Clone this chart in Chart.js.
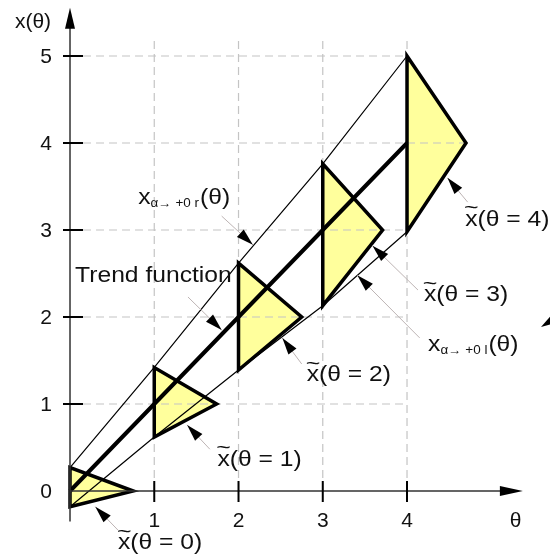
<!DOCTYPE html>
<html>
<head>
<meta charset="utf-8">
<title>Fuzzy trend</title>
<script src="https://cdn.jsdelivr.net/npm/chart.js@4"></script>
<style>
  html, body { margin: 0; padding: 0; background: #fff; }
  #wrap { width: 550px; height: 558px; }
</style>
</head>
<body>
<div id="wrap"><canvas id="trendChart" width="550" height="558"></canvas></div>
<script>
// fuzzy observations: one triangle per theta
const thetaPoints = [0, 1, 2, 3, 4];
const upperBound = [0.27, 1.42, 2.62, 3.76, 5.0];
const lowerBound = [-0.18, 0.62, 1.39, 2.13, 2.98];
const peakTheta = [0.75, 1.74, 2.75, 3.71, 4.7];
const trendValue = [0, 1, 2, 3, 4];

const xTicks = [1, 2, 3, 4];
const yTicks = [0, 1, 2, 3, 4, 5];

// callouts: label text, label anchor, arrow tip and leader end (data units)
const callouts = [
    { text: '(\u03b8 = 0)', tilde: true, at: [1.07, -0.60], tip: [0.30, -0.18], tail: [0.57, -0.45] },
    { text: '(\u03b8 = 1)', tilde: true, at: [2.25, 0.36], tip: [1.39, 0.76], tail: [1.66, 0.48] },
    { text: '(\u03b8 = 2)', tilde: true, at: [3.31, 1.33], tip: [2.52, 1.76], tail: [2.75, 1.46] },
    { text: '(\u03b8 = 3)', tilde: true, at: [4.70, 2.25], tip: [3.59, 2.82], tail: [4.13, 2.31] },
    { text: '(\u03b8 = 4)', tilde: true, at: [5.19, 3.12], tip: [4.48, 3.60], tail: [4.72, 3.32] },
    { text: 'Trend function', tilde: false, at: [0.99, 2.47], tip: [1.80, 1.85], tail: [1.40, 2.23] }
];
const boundCallouts = [
    { sub: '\u03b1\u2192 +0 r', at: [0.81, 3.37], tip: [2.17, 2.83], tail: [1.80, 3.16] },
    { sub: '\u03b1\u2192 +0 l', at: [4.25, 1.68], tip: [3.41, 2.48], tail: [4.15, 1.76] }
];

const FONT = '"Liberation Sans", Arial, sans-serif';
const STRETCH = 1.12;

function triangle(i) {
    const t = thetaPoints[i];
    return [
        { x: t, y: lowerBound[i] },
        { x: t, y: upperBound[i] },
        { x: peakTheta[i], y: trendValue[i] },
        { x: t, y: lowerBound[i] },
        { x: t, y: upperBound[i] }
    ];
}

const datasets = [];
thetaPoints.forEach((t, i) => {
    datasets.push({
        data: triangle(i),
        borderColor: '#000',
        borderWidth: 3.5,
        backgroundColor: '#ffff9c',
        fill: 'shape',
        borderJoinStyle: 'miter',
        pointRadius: 0,
        order: 1
    });
});
datasets.push({
    data: thetaPoints.map((t, i) => ({ x: t, y: trendValue[i] })),
    borderColor: '#000',
    borderWidth: 4,
    fill: false,
    pointRadius: 0,
    order: 1
});
datasets.push({
    data: thetaPoints.map((t, i) => ({ x: t, y: upperBound[i] })),
    borderColor: '#000',
    borderWidth: 1.2,
    fill: false,
    pointRadius: 0,
    order: 2
});
datasets.push({
    data: thetaPoints.map((t, i) => ({ x: t, y: lowerBound[i] })),
    borderColor: '#000',
    borderWidth: 1.2,
    fill: false,
    pointRadius: 0,
    order: 2
});

function arrowHead(ctx, tx, ty, fx, fy, len, half) {
    const a = Math.atan2(ty - fy, tx - fx);
    ctx.beginPath();
    ctx.moveTo(tx, ty);
    ctx.lineTo(tx - len * Math.cos(a) + half * Math.sin(a), ty - len * Math.sin(a) - half * Math.cos(a));
    ctx.lineTo(tx - len * Math.cos(a) - half * Math.sin(a), ty - len * Math.sin(a) + half * Math.cos(a));
    ctx.closePath();
    ctx.fill();
}

// slightly widened text, left aligned at x, vertically centred on y
function wideText(ctx, text, x, y, size) {
    ctx.save();
    ctx.font = size + 'px ' + FONT;
    ctx.textAlign = 'left';
    ctx.textBaseline = 'middle';
    ctx.translate(x, y);
    ctx.scale(STRETCH, 1);
    ctx.fillText(text, 0, 0);
    const w = ctx.measureText(text).width * STRETCH;
    ctx.restore();
    return w;
}

function wideWidth(ctx, text, size) {
    ctx.save();
    ctx.font = size + 'px ' + FONT;
    const w = ctx.measureText(text).width * STRETCH;
    ctx.restore();
    return w;
}

// x with a tilde over it, then the rest of the label
function tildeLabel(ctx, text, cx, cy) {
    const total = wideWidth(ctx, 'x' + text, 22);
    let x = cx - total / 2;
    const xw = wideText(ctx, 'x', x, cy, 22);
    ctx.save();
    ctx.font = '20px ' + FONT;
    ctx.textAlign = 'center';
    ctx.textBaseline = 'middle';
    ctx.translate(x + xw / 2, cy - 11);
    ctx.scale(1.25, 1);
    ctx.fillText('~', 0, 0);
    ctx.restore();
    wideText(ctx, text, x + xw, cy, 22);
}

const axesPlugin = {
    id: 'axesPlugin',
    beforeDatasetsDraw(chart) {
        const ctx = chart.ctx;
        const xs = chart.scales.x, ys = chart.scales.y;
        ctx.save();
        ctx.strokeStyle = '#c4c4c4';
        ctx.lineWidth = 1.2;
        ctx.setLineDash([8, 5]);
        yTicks.slice(1).forEach(v => {
            ctx.beginPath();
            ctx.moveTo(xs.getPixelForValue(0), ys.getPixelForValue(v));
            ctx.lineTo(xs.getPixelForValue(4), ys.getPixelForValue(v));
            ctx.stroke();
        });
        xTicks.forEach(v => {
            ctx.beginPath();
            ctx.moveTo(xs.getPixelForValue(v), ys.getPixelForValue(0));
            ctx.lineTo(xs.getPixelForValue(v), ys.getPixelForValue(5.2));
            ctx.stroke();
        });
        // centre line of the last triangle
        ctx.beginPath();
        ctx.moveTo(xs.getPixelForValue(4), ys.getPixelForValue(4));
        ctx.lineTo(xs.getPixelForValue(peakTheta[4]), ys.getPixelForValue(4));
        ctx.stroke();
        ctx.restore();
    },
    afterDatasetsDraw(chart) {
        const ctx = chart.ctx;
        const xs = chart.scales.x, ys = chart.scales.y;
        const X = v => xs.getPixelForValue(v), Y = v => ys.getPixelForValue(v);
        ctx.save();

        // axes with arrow heads
        ctx.strokeStyle = '#333';
        ctx.fillStyle = '#000';
        ctx.lineWidth = 1.5;
        ctx.beginPath();
        ctx.moveTo(X(0), Y(-0.35));
        ctx.lineTo(X(0), Y(5.5));
        ctx.moveTo(X(0), Y(0));
        ctx.lineTo(X(5.3), Y(0));
        ctx.stroke();
        arrowHead(ctx, X(0), Y(5.555), X(0), Y(0), 21, 5);
        arrowHead(ctx, X(5.375), Y(0), X(0), Y(0), 23, 5);

        // tick marks
        ctx.strokeStyle = '#000';
        ctx.lineWidth = 2;
        xTicks.forEach(v => {
            ctx.beginPath();
            ctx.moveTo(X(v), Y(0) - 10);
            ctx.lineTo(X(v), Y(0) + 11);
            ctx.stroke();
        });
        yTicks.slice(1).forEach(v => {
            ctx.beginPath();
            ctx.moveTo(X(0) - 7, Y(v));
            ctx.lineTo(X(0) + 13, Y(v));
            ctx.stroke();
        });

        // tick labels and axis titles
        ctx.fillStyle = '#111';
        ctx.font = '21px ' + FONT;
        ctx.textAlign = 'center';
        ctx.textBaseline = 'middle';
        xTicks.forEach(v => ctx.fillText(String(v), X(v), Y(0) + 30));
        ctx.textAlign = 'right';
        yTicks.forEach(v => ctx.fillText(String(v), X(0) - 18, Y(v) + 1));
        ctx.textAlign = 'center';
        ctx.fillText('x(\u03b8)', X(0) - 37, 22);
        ctx.fillText('\u03b8', X(5.29), Y(0) + 30);

        // callout leaders and arrow heads
        const leaders = callouts.concat(boundCallouts);
        leaders.forEach(c => {
            const tx = X(c.tip[0]), ty = Y(c.tip[1]);
            const fx = X(c.tail[0]), fy = Y(c.tail[1]);
            ctx.strokeStyle = '#bdb4b4';
            ctx.lineWidth = 1;
            ctx.beginPath();
            ctx.moveTo(tx, ty);
            ctx.lineTo(fx, fy);
            ctx.stroke();
            ctx.fillStyle = '#000';
            arrowHead(ctx, tx, ty, fx, fy, 17, 5);
        });
        // loose arrow head at the right edge
        arrowHead(ctx, 541, 327, 565, 312, 17, 5);

        ctx.fillStyle = '#111';
        callouts.forEach(c => {
            if (c.tilde) {
                tildeLabel(ctx, c.text, X(c.at[0]), Y(c.at[1]));
            } else {
                const w = wideWidth(ctx, c.text, 22);
                wideText(ctx, c.text, X(c.at[0]) - w / 2, Y(c.at[1]), 22);
            }
        });

        // bound labels with subscripts
        boundCallouts.forEach(c => {
            let x = X(c.at[0]);
            const y = Y(c.at[1]);
            x += wideText(ctx, 'x', x, y, 22);
            x += wideText(ctx, c.sub, x, y + 6, 12) + 1;
            wideText(ctx, '(\u03b8)', x, y, 22);
        });
        ctx.restore();
    }
};

new Chart(document.getElementById('trendChart').getContext('2d'), {
    type: 'line',
    data: { datasets: datasets },
    options: {
        responsive: false,
        animation: false,
        layout: { padding: 0 },
        scales: {
            x: { type: 'linear', min: -0.8309, max: 5.697, display: false },
            y: { type: 'linear', min: -0.770, max: 5.6437, display: false }
        },
        plugins: {
            legend: { display: false },
            tooltip: { enabled: false },
            filler: { drawTime: 'beforeDatasetsDraw' }
        }
    },
    plugins: [axesPlugin]
});
</script>
</body>
</html>
